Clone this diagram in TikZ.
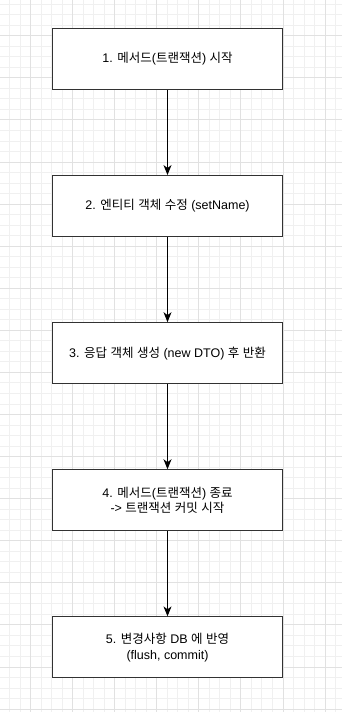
\documentclass[tikz,border=0pt]{standalone}
\usepackage{fontspec}
\setmainfont{Liberation Sans}
\newfontfamily\hangulfont{Noto Sans CJK KR}
\usepackage{tikz}
\usetikzlibrary{arrows.meta, positioning}
\definecolor{gridminor}{RGB}{240,240,240}
\definecolor{gridmajor}{RGB}{225,225,225}
\definecolor{boxline}{RGB}{50,50,50}

% Hangul syllables are set in the CJK font
\newXeTeXintercharclass\hangulclass
\count255="AC00
\loop\ifnum\count255<"D7A4
  \XeTeXcharclass\count255=\hangulclass
  \advance\count255 by 1
\repeat
\XeTeXinterchartoks 0 \hangulclass = {\hangulfont}
\XeTeXinterchartoks 4095 \hangulclass = {\hangulfont}
\XeTeXinterchartoks \hangulclass 0 = {\normalfont}
\XeTeXinterchartoks \hangulclass 4095 = {\normalfont}
\XeTeXinterchartokenstate=1

\begin{document}
\begin{tikzpicture}[
    x=1pt, y=-1pt,
    node distance=85pt,
    stepbox/.style={rectangle, draw=boxline, line width=1.1pt, fill=white, minimum width=230pt, minimum height=61pt, inner sep=0pt, align=center, font=\fontsize{12.5}{15.5}\selectfont},
    flow/.style={-{Stealth[length=10pt, width=8pt, inset=3pt]}, line width=1pt}
]
\useasboundingbox[fill=white] (0,0) rectangle (342,712);

% grid
\foreach \k in {0,...,31}
  \draw[gridminor, line width=1pt] ({9.48+10.52*\k},0) -- ++(0,712);
\foreach \k in {0,...,67}
  \draw[gridminor, line width=1pt] (0,{4.24+10.52*\k}) -- ++(342,0);
\foreach \k in {2,6,...,30}
  \draw[gridmajor, line width=1pt] ({9.48+10.52*\k},0) -- ++(0,712);
\foreach \k in {3,7,...,67}
  \draw[gridmajor, line width=1pt] (0,{4.24+10.52*\k}) -- ++(342,0);

\node[stepbox] (start) at (167.5,59) {1. 메서드(트랜잭션) 시작};
\node[stepbox, below=of start] (update) {2. 엔티티 객체 수정 (setName)};
\node[stepbox, below=of update] (response) {3. 응답 객체 생성 (new DTO) 후 반환};
\node[stepbox, below=of response] (finish) {4. 메서드(트랜잭션) 종료\\-> 트랜잭션 커밋 시작};
\node[stepbox, below=of finish] (flush) {5. 변경사항 DB 에 반영\\(flush, commit)};

\draw[flow] (start) -- (update);
\draw[flow] (update) -- (response);
\draw[flow] (response) -- (finish);
\draw[flow] (finish) -- (flush);

\end{tikzpicture}
\end{document}
